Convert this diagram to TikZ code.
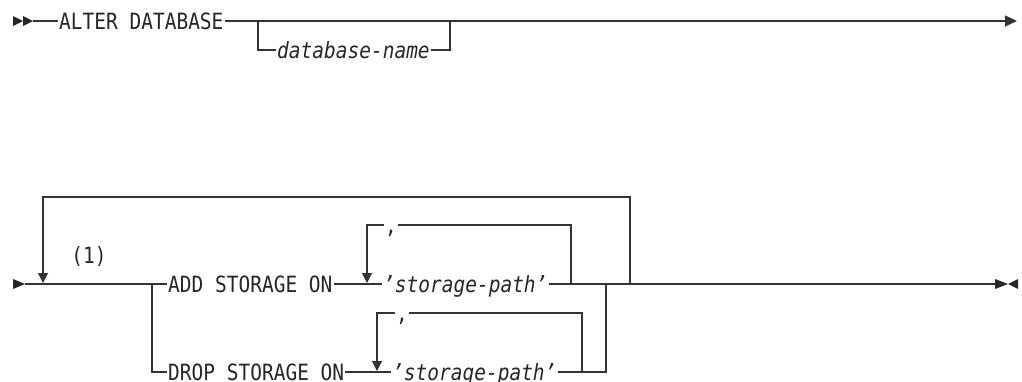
\documentclass[tikz,border=0pt]{standalone}
\usepackage{fontspec}
\setmonofont{DejaVu Sans Mono}[FakeStretch=0.87]
\usetikzlibrary{arrows.meta}
\tikzset{rail/.style={draw=black!80,line width=1.1pt},
 word/.style={font=\ttfamily\fontsize{22.4}{23}\selectfont,text=black!85,
  inner sep=0pt,inner xsep=1pt,text height=16.3pt,text depth=0pt,anchor=west},
 var/.style={word,font=\ttfamily\itshape\fontsize{22.4}{23}\selectfont},
 down/.style={rail,-{Triangle[length=10pt,width=10pt]}},
 tipfill/.style={fill=black!85},
 }

\begin{document}
\begin{tikzpicture}[x=1pt,y=-1pt]
    \useasboundingbox (0,0) rectangle (1022,381);
    \fill[tipfill] (13,16) -- (23,21) -- (13,26) -- cycle
                   (23,16) -- (33,21) -- (23,26) -- cycle;
    \coordinate (s1) at (33,21);
    \node[word] (alter) at (58,21) {ALTER DATABASE};
    \node[var] (dbname) at (276,50) {database-name};
    \coordinate (b1) at (258,21);
    \coordinate (b2) at (450,21);
    \coordinate (e1) at (1017,21);
    \draw[rail] (s1) -- (alter.west);
    \draw[rail,-{Triangle[length=12pt,width=11pt]}] (alter.east) -- (e1);
    \draw[rail] (b1) |- (dbname.west);
    \draw[rail] (dbname.east) -| (b2);

    \fill[tipfill] (13,279) -- (25,284) -- (13,289) -- cycle;
    \coordinate (s2) at (25,284);
    \coordinate (j1) at (152,284);
    \coordinate (lp) at (630,284);
    \coordinate (lptop) at (630,197);
    \coordinate (lpl) at (43,283);
    \node[word,anchor=center] (note) at (89,255) {(1)};
    \node[word] (add) at (167,284) {ADD STORAGE ON};
    \node[word] (drop) at (167,372) {DROP STORAGE ON};
    \node[var] (path1) at (382,284) {’storage-path’};
    \node[var] (path2) at (391,372) {’storage-path’};
    \node[word] (c1) at (384,225) {,};
    \node[word] (c2) at (395,313) {,};
    \coordinate (r1) at (367,283);
    \coordinate (r1e) at (571,284);
    \coordinate (r2) at (377,371);
    \coordinate (r2e) at (582,372);
    \coordinate (j2) at (606,284);
    \coordinate (e2) at (995,284);
    \draw[rail] (s2) -- (add.west);
    \draw[down] (lp) -- (lptop) -| (lpl);
    \draw[rail] (j1) |- (drop.west);
    \draw[rail] (add.east) -- (path1.west);
    \draw[rail] (drop.east) -- (path2.west);
    \draw[down] (c1.west) -| (r1);
    \draw[rail] (c1.east) -| (r1e);
    \draw[down] (c2.west) -| (r2);
    \draw[rail] (c2.east) -| (r2e);
    \draw[rail] (path1.east) -- (e2);
    \draw[rail] (path2.east) -| (j2);
    \fill[tipfill] (995,279) -- (1008,284) -- (995,289) -- cycle
                   (1018,279) -- (1008,284) -- (1018,289) -- cycle;
\end{tikzpicture}
\end{document}
